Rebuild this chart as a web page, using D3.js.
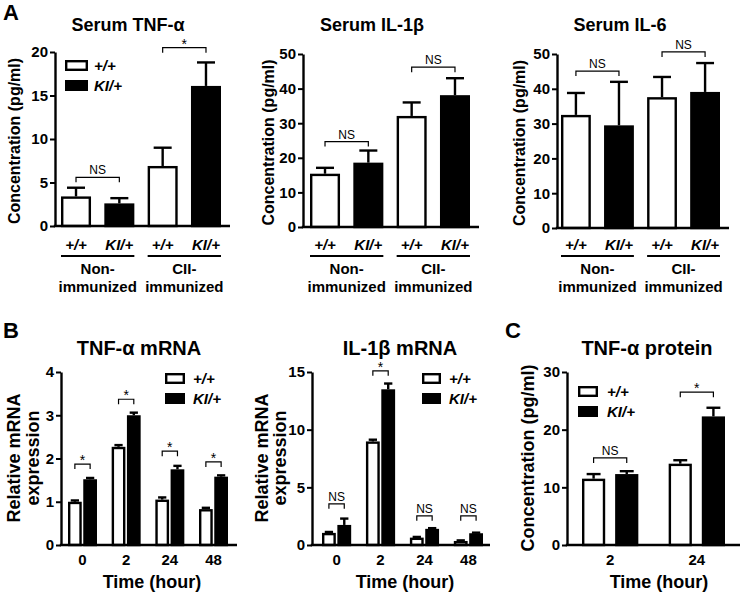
<!DOCTYPE html>
<html>
<head>
<meta charset="utf-8">
<script src="https://cdn.jsdelivr.net/npm/d3@7"></script>
<style>
  html, body { margin: 0; padding: 0; background: #fff; }
  svg { display: block; }
</style>
</head>
<body>
<div id="chart"></div>
<script>
// ---------------- DATA ----------------
const genotypes = ["+/+", "KI/+"];

// Panel A (serum cytokines)
const aBarLabels = ["+/+", "KI/+", "+/+", "KI/+"];
const aGroupNames = [["Non-", "immunized"], ["CII-", "immunized"]];
const serumTnfMean = [3.4, 2.6, 6.9, 16.1];
const serumTnfSem  = [1.0, 0.6, 2.1, 2.7];
const serumTnfTicks = [0, 5, 10, 15, 20];
const serumTnfSig = ["NS", "*"];
const serumTnfSigLevel = [5.6, 20.5];

const serumIl1bMean = [15.4, 18.6, 32.1, 38.1];
const serumIl1bSem  = [1.7, 3.5, 3.9, 4.9];
const serumIl1bTicks = [0, 10, 20, 30, 40, 50];
const serumIl1bSig = ["NS", "NS"];
const serumIl1bSigLevel = [24.7, 46.2];

const serumIl6Mean = [32.5, 29.5, 37.6, 39.1];
const serumIl6Sem  = [6.3, 12.5, 5.8, 8.3];
const serumIl6Ticks = [0, 10, 20, 30, 40, 50];
const serumIl6Sig = ["NS", "NS"];
const serumIl6SigLevel = [45.1, 50.6];

// Panel B (mRNA)
const timeB = ["0", "2", "24", "48"];
const tnfMrnaWT = [1.0, 2.27, 1.05, 0.83];
const tnfMrnaWTSem = [0.03, 0.04, 0.05, 0.03];
const tnfMrnaKI = [1.52, 3.0, 1.75, 1.58];
const tnfMrnaKISem = [0.03, 0.06, 0.08, 0.03];
const tnfMrnaTicks = [0, 1, 2, 3, 4];
const tnfMrnaSig = ["*", "*", "*", "*"];
const tnfMrnaSigLevel = [1.87, 3.37, 2.17, 1.92];

const il1bMrnaWT = [1.05, 8.98, 0.64, 0.35];
const il1bMrnaWTSem = [0.08, 0.15, 0.06, 0.05];
const il1bMrnaKI = [1.74, 13.5, 1.4, 1.02];
const il1bMrnaKISem = [0.55, 0.5, 0.06, 0.05];
const il1bMrnaTicks = [0, 5, 10, 15];
const il1bMrnaSig = ["NS", "*", "NS", "NS"];
const il1bMrnaSigLevel = [3.57, 15.1, 2.53, 2.53];

// Panel C (protein)
const timeC = ["2", "24"];
const tnfProtWT = [11.5, 14.1];
const tnfProtWTSem = [0.8, 0.6];
const tnfProtKI = [12.3, 22.3];
const tnfProtKISem = [0.5, 1.5];
const tnfProtTicks = [0, 10, 20, 30];
const tnfProtSig = ["NS", "*"];
const tnfProtSigLevel = [15.1, 26.5];

// ---------------- DRAWING ----------------
const FONT = "'Liberation Sans', Arial, Helvetica, sans-serif";
const W = 743, H = 593;
const SW = 2.4; // main stroke width

const svg = d3.select("#chart").append("svg")
  .attr("width", W).attr("height", H)
  .style("font-family", FONT);

function txt(g, x, y, s, size, opts = {}) {
  return g.append("text")
    .attr("x", x).attr("y", y)
    .attr("text-anchor", opts.anchor || "middle")
    .attr("font-size", size)
    .attr("font-weight", opts.weight || "bold")
    .attr("font-style", opts.italic ? "italic" : "normal")
    .attr("fill", "#000")
    .attr("transform", opts.rotate ? `rotate(-90,${x},${y})` : null)
    .text(s);
}

function drawYAxis(g, y, axisX, ticks) {
  const ax = g.append("g").attr("transform", `translate(${axisX},0)`)
    .call(d3.axisLeft(y).tickValues(ticks).tickSize(5).tickSizeOuter(0).tickPadding(2).tickFormat(d3.format("d")));
  ax.select(".domain").attr("stroke-width", SW).attr("stroke", "#000");
  ax.selectAll(".tick line").attr("stroke-width", 2).attr("stroke", "#000");
  ax.selectAll(".tick text").attr("font-size", 15).attr("font-weight", "bold")
    .attr("font-family", FONT).attr("fill", "#000");
}

function drawBar(g, x, w, y, v, sem, filled) {
  const y0 = y(0);
  // error bar
  const cx = x + w / 2;
  const capW = w * 0.6;
  g.append("line").attr("x1", cx).attr("x2", cx).attr("y1", y(v)).attr("y2", y(v + sem))
    .attr("stroke", "#000").attr("stroke-width", SW);
  g.append("line").attr("x1", cx - capW / 2).attr("x2", cx + capW / 2)
    .attr("y1", y(v + sem)).attr("y2", y(v + sem))
    .attr("stroke", "#000").attr("stroke-width", SW);
  g.append("rect")
    .attr("x", x + SW / 2).attr("y", y(v) + SW / 2)
    .attr("width", w - SW).attr("height", Math.max(0, y0 - y(v) - SW / 2))
    .attr("fill", filled ? "#000" : "#fff")
    .attr("stroke", "#000").attr("stroke-width", SW);
}

function drawBracket(g, x1, x2, yy, label) {
  g.append("path")
    .attr("d", `M${x1},${yy + 5}V${yy}H${x2}V${yy + 5}`)
    .attr("fill", "none").attr("stroke", "#000").attr("stroke-width", 1.2);
  if (label === "*") txt(g, (x1 + x2) / 2, yy + 1, label, 14, { weight: "normal" });
  else txt(g, (x1 + x2) / 2, yy - 3, label, 12, { weight: "normal" });
}

function drawLegend(g, x, y, boxW, boxH, gap, textX) {
  genotypes.forEach((gt, i) => {
    const yy = y + i * gap;
    g.append("rect").attr("x", x + SW / 2).attr("y", yy + SW / 2)
      .attr("width", boxW - SW).attr("height", boxH - SW)
      .attr("fill", i === 0 ? "#fff" : "#000").attr("stroke", "#000").attr("stroke-width", SW);
    txt(g, textX, yy + boxH, gt, 15, { anchor: "start", italic: true });
  });
}

// ---- Panel A ----
function panelA(cfg) {
  const g = svg.append("g");
  const y = d3.scaleLinear().domain([0, cfg.ticks[cfg.ticks.length - 1]]).range(cfg.yRange);
  const x = d3.scaleBand().domain(d3.range(cfg.mean.length)).range(cfg.xRange).paddingInner(0.307).paddingOuter(0);
  const bw = x.bandwidth();
  cfg.mean.forEach((v, i) => drawBar(g, x(i), bw, y, v, cfg.sem[i], i % 2 === 1));
  drawYAxis(g, y, cfg.axisX, cfg.ticks);
  // x axis line
  g.append("line").attr("x1", cfg.axisX - SW / 2).attr("x2", cfg.xRange[1] + 9)
    .attr("y1", y(0)).attr("y2", y(0)).attr("stroke", "#000").attr("stroke-width", SW);
  // bar labels
  aBarLabels.forEach((l, i) => txt(g, x(i) + bw / 2, 250, l, 15, { italic: true }));
  // group lines & names
  aGroupNames.forEach((names, j) => {
    const xa = x(2 * j), xb = x(2 * j + 1) + bw;
    g.append("line").attr("x1", xa).attr("x2", xb).attr("y1", 256).attr("y2", 256)
      .attr("stroke", "#000").attr("stroke-width", 2);
    txt(g, (xa + xb) / 2, 274, names[0], 15);
    txt(g, (xa + xb) / 2, 292, names[1], 15);
  });
  // significance brackets
  cfg.sig.forEach((s, j) => {
    const i1 = 2 * j, i2 = 2 * j + 1;
    drawBracket(g, x(i1) + bw / 2, x(i2) + bw / 2, y(cfg.sigLevel[j]), s);
  });
  txt(g, cfg.titleX, 31, cfg.title, 18);
  txt(g, cfg.labelX, (cfg.yRange[0] + cfg.yRange[1]) / 2 + 2, "Concentration (pg/ml)", 16, { rotate: true });
  if (cfg.legend) drawLegend(g, cfg.legend[0], cfg.legend[1], 23, 11, 20, cfg.legend[2]);
}

panelA({ axisX: 55, yRange: [226, 52], xRange: [61, 221], ticks: serumTnfTicks,
  mean: serumTnfMean, sem: serumTnfSem, sig: serumTnfSig, sigLevel: serumTnfSigLevel,
  title: "Serum TNF-α", titleX: 128, labelX: 20, legend: [65, 60, 94] });
panelA({ axisX: 303, yRange: [227, 54], xRange: [310, 470], ticks: serumIl1bTicks,
  mean: serumIl1bMean, sem: serumIl1bSem, sig: serumIl1bSig, sigLevel: serumIl1bSigLevel,
  title: "Serum IL-1β", titleX: 372, labelX: 274 });
panelA({ axisX: 557, yRange: [228, 54], xRange: [561, 720], ticks: serumIl6Ticks,
  mean: serumIl6Mean, sem: serumIl6Sem, sig: serumIl6Sig, sigLevel: serumIl6SigLevel,
  title: "Serum IL-6", titleX: 620, labelX: 525 });

// ---- Panels B and C ----
function panelGrouped(cfg) {
  const g = svg.append("g");
  const y = d3.scaleLinear().domain([0, cfg.ticks[cfg.ticks.length - 1]]).range(cfg.yRange);
  const x = d3.scaleBand().domain(cfg.cats).range(cfg.xRange).paddingInner(cfg.padInner).paddingOuter(0);
  const xs = d3.scaleBand().domain(genotypes).range([0, x.bandwidth()]).paddingInner(cfg.padSub);
  const bw = xs.bandwidth();
  cfg.cats.forEach((c, i) => {
    drawBar(g, x(c) + xs(genotypes[0]), bw, y, cfg.wt[i], cfg.wtSem[i], false);
    drawBar(g, x(c) + xs(genotypes[1]), bw, y, cfg.ki[i], cfg.kiSem[i], true);
    drawBracket(g, x(c) + xs(genotypes[0]) + bw / 2, x(c) + xs(genotypes[1]) + bw / 2,
      y(cfg.sigLevel[i]), cfg.sig[i]);
  });
  drawYAxis(g, y, cfg.axisX, cfg.ticks);
  const xa = g.append("g").attr("transform", `translate(0,${y(0)})`)
    .call(d3.axisBottom(x).tickSize(0).tickPadding(9));
  xa.select(".domain").remove();
  xa.selectAll(".tick text").attr("font-size", 15).attr("font-weight", "bold")
    .attr("font-family", FONT).attr("fill", "#000");
  g.append("line").attr("x1", cfg.axisX - SW / 2).attr("x2", cfg.xEnd)
    .attr("y1", y(0)).attr("y2", y(0)).attr("stroke", "#000").attr("stroke-width", SW);
  txt(g, cfg.titleX, 355, cfg.title, 20);
  txt(g, cfg.xTitleX, 588, "Time (hour)", 18);
  cfg.yLabels.forEach((l, k) => txt(g, cfg.yLabelX[k], 458, l, 18, { rotate: true }));
  drawLegend(g, cfg.legend[0], cfg.legend[1], cfg.legend[2], 11, 20, cfg.legend[3]);
}

panelGrouped({ axisX: 61, yRange: [545, 372], xRange: [68, 228], padInner: 0.336, padSub: 0.1,
  cats: timeB, ticks: tnfMrnaTicks, wt: tnfMrnaWT, wtSem: tnfMrnaWTSem, ki: tnfMrnaKI, kiSem: tnfMrnaKISem,
  sig: tnfMrnaSig, sigLevel: tnfMrnaSigLevel, xEnd: 237,
  title: "TNF-α mRNA", titleX: 139, xTitleX: 152,
  yLabels: ["Relative mRNA", "expression"], yLabelX: [20, 39], legend: [165, 373, 20, 193] });
panelGrouped({ axisX: 312, yRange: [545, 372], xRange: [322, 483], padInner: 0.336, padSub: 0.1,
  cats: timeB, ticks: il1bMrnaTicks, wt: il1bMrnaWT, wtSem: il1bMrnaWTSem, ki: il1bMrnaKI, kiSem: il1bMrnaKISem,
  sig: il1bMrnaSig, sigLevel: il1bMrnaSigLevel, xEnd: 490,
  title: "IL-1β mRNA", titleX: 400, xTitleX: 405,
  yLabels: ["Relative mRNA", "expression"], yLabelX: [268, 286], legend: [422, 373, 19, 449] });
panelGrouped({ axisX: 567, yRange: [545, 372], xRange: [582, 725], padInner: 0.35, padSub: 0.3,
  cats: timeC, ticks: tnfProtTicks, wt: tnfProtWT, wtSem: tnfProtWTSem, ki: tnfProtKI, kiSem: tnfProtKISem,
  sig: tnfProtSig, sigLevel: tnfProtSigLevel, xEnd: 740,
  title: "TNF-α protein", titleX: 647, xTitleX: 659,
  yLabels: ["Concentration (pg/ml)"], yLabelX: [534], legend: [578, 386, 20, 607] });

// panel letters
txt(svg, 3, 20, "A", 22, { anchor: "start" });
txt(svg, 3, 338, "B", 22, { anchor: "start" });
txt(svg, 505, 338, "C", 22, { anchor: "start" });
</script>
</body>
</html>
